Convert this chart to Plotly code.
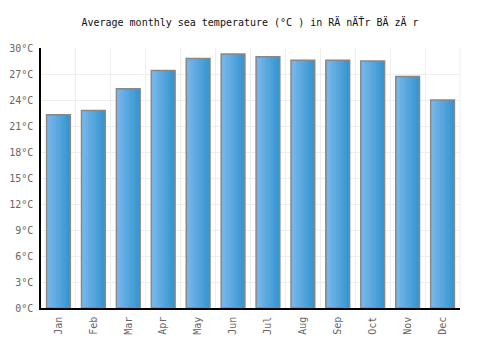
import plotly.graph_objects as go

months = ["Jan", "Feb", "Mar", "Apr", "May", "Jun", "Jul", "Aug", "Sep", "Oct", "Nov", "Dec"]
sea_temp = [22.3, 22.8, 25.3, 27.4, 28.8, 29.3, 29.0, 28.6, 28.6, 28.5, 26.7, 24.0]
y_ticks = [0, 3, 6, 9, 12, 15, 18, 21, 24, 27, 30]
title_text = "Average monthly sea temperature (°C ) in RÄ nÄŤr BÄ zÄ r"

FONT = "DejaVu Sans Mono"
bar_w = 0.68
n_slices = 14
c_left = (122, 184, 236)
c_right = (54, 150, 208)

fig = go.Figure()
for i in range(n_slices):
    t = i / (n_slices - 1)
    col = tuple(round(c_left[k] + (c_right[k] - c_left[k]) * t) for k in range(3))
    fig.add_trace(go.Bar(
        x=months, y=sea_temp,
        width=bar_w / n_slices + 0.002,
        offset=-bar_w / 2 + i * bar_w / n_slices,
        marker=dict(color="rgb(%d,%d,%d)" % col, line=dict(width=0)),
        hoverinfo="skip", showlegend=False,
    ))
fig.add_trace(go.Bar(
    x=months, y=sea_temp, width=bar_w, offset=-bar_w / 2,
    marker=dict(color="rgba(0,0,0,0)", line=dict(color="#888888", width=1.5)),
    showlegend=False,
))

fig.update_layout(
    width=500, height=350,
    margin=dict(l=41, r=40, t=48, b=42),
    paper_bgcolor="white", plot_bgcolor="white",
    barmode="overlay",
    title=dict(text=title_text, x=0.5, xanchor="center", y=1 - 22 / 350, yanchor="middle",
               yref="container", font=dict(family=FONT, size=10, color="#111")),
    xaxis=dict(
        type="category", tickson="boundaries", ticks="", showgrid=True, gridcolor="#eeeeee",
        gridwidth=1, showline=True, linecolor="#000", linewidth=1.5, tickangle=-90,
        tickfont=dict(family=FONT, size=10, color="#666"), mirror=False,
        range=[-0.5, 11.5], ticklabelstandoff=3, automargin=False,
    ),
    yaxis=dict(
        range=[0, 30], tickvals=y_ticks, ticktext=["%d°C" % v for v in y_ticks],
        showgrid=True, gridcolor="#eeeeee", gridwidth=1, showline=True, linecolor="#000",
        linewidth=1.5, ticks="", zeroline=False, ticklabelstandoff=4, automargin=False,
        tickfont=dict(family=FONT, size=10, color="#666"),
    ),
)
fig.add_shape(type="line", xref="paper", yref="paper", x0=1, x1=1, y0=0, y1=1,
              line=dict(color="#eeeeee", width=1))
fig.write_html("out.html")
